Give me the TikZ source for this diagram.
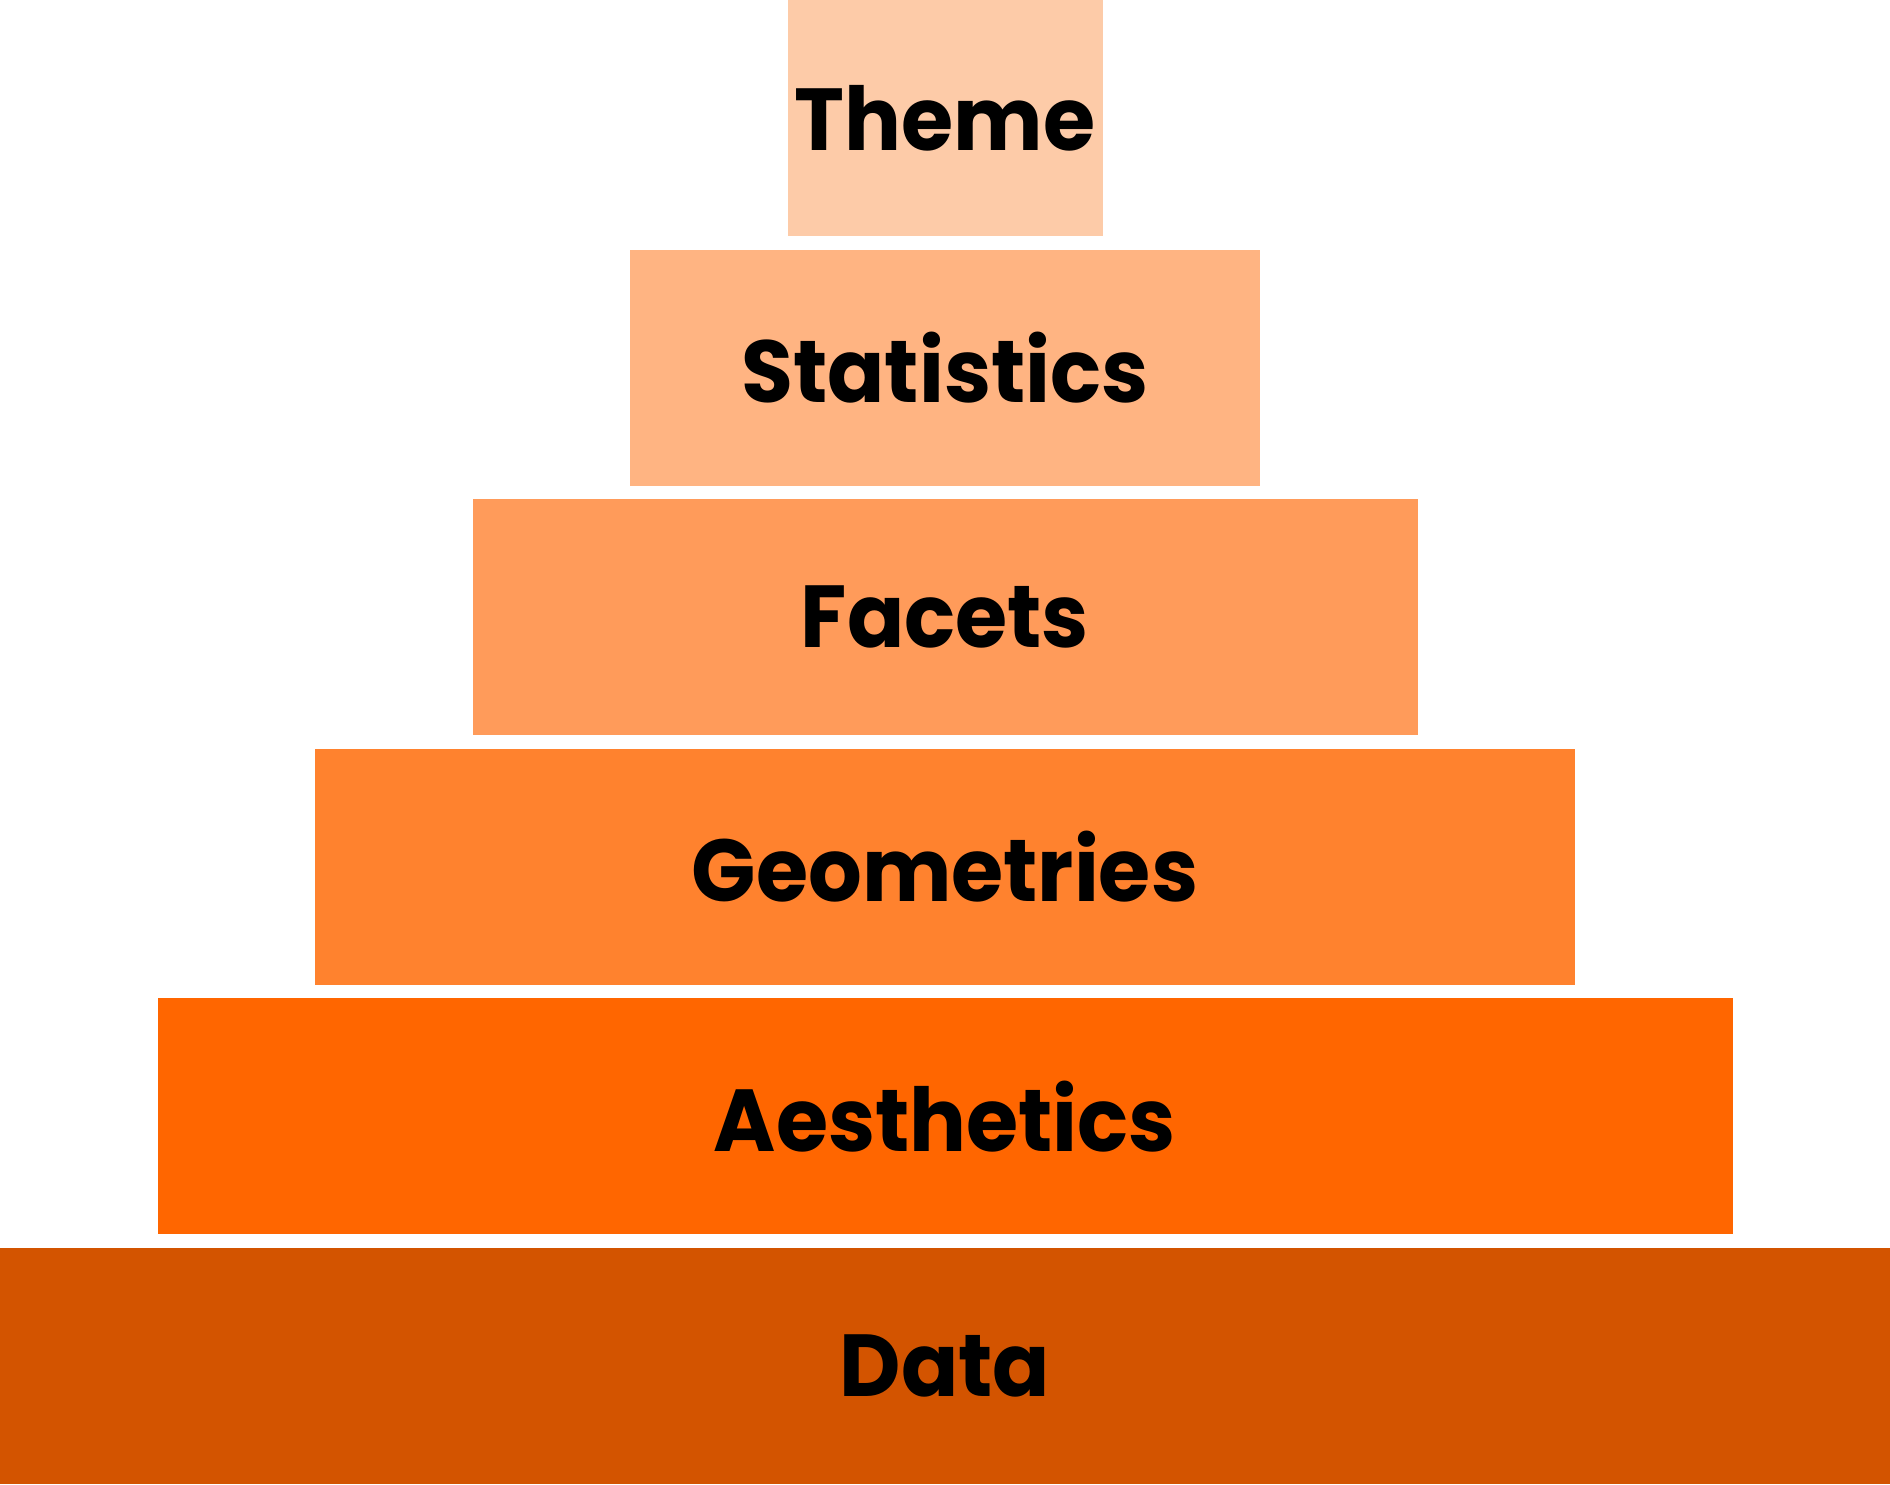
\documentclass[tikz,border=0pt]{standalone}
\usepackage{fontspec}
\setmainfont{Poppins}[BoldFont={* Bold}, FakeStretch=0.96]
\definecolor{cTheme}{HTML}{FDCBA8}
\definecolor{cStat}{HTML}{FFB482}
\definecolor{cFacet}{HTML}{FF9B5A}
\definecolor{cGeom}{HTML}{FF822E}
\definecolor{cAes}{HTML}{FF6600}
\definecolor{cData}{HTML}{D35400}
\begin{document}
\begin{tikzpicture}[x=0.5pt,y=0.5pt,
  layer/.style={draw=none, inner sep=0pt, minimum height=118pt, font=\fontsize{44}{50}\selectfont\bfseries, text=black}]
\useasboundingbox (0,0) rectangle (1890,1484);
\node[layer, fill=cData,  minimum width=945pt]   (data)  at (945,118) {Data};
\node[layer, fill=cAes,   minimum width=787.5pt] (aes)   at (945,367.6) {Aesthetics};
\node[layer, fill=cGeom,  minimum width=630pt]   (geom)  at (945,617.2) {Geometries};
\node[layer, fill=cFacet, minimum width=472.5pt] (facet) at (945,866.8) {Facets};
\node[layer, fill=cStat,  minimum width=315pt]   (stat)  at (945,1116.4) {Statistics};
\node[layer, fill=cTheme, minimum width=157.5pt] (theme) at (945,1366) {Theme};
\end{tikzpicture}
\end{document}
